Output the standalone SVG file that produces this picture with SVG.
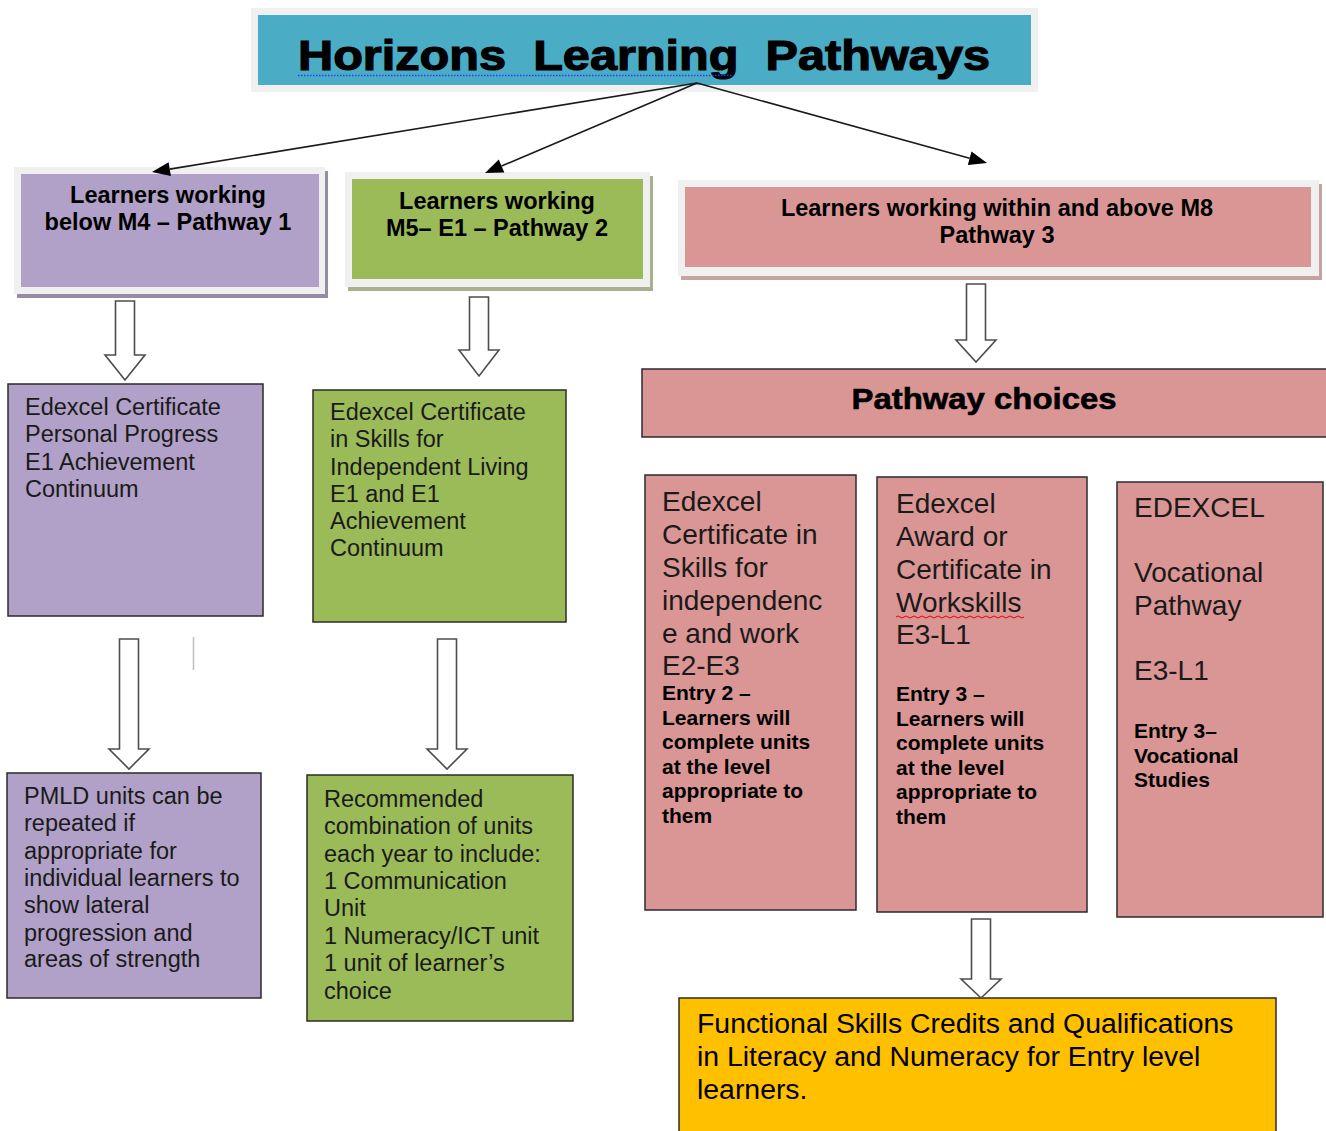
<svg xmlns="http://www.w3.org/2000/svg" width="1326" height="1131" viewBox="0 0 1326 1131">
<style>
  text { font-family: "Liberation Sans", Arial, sans-serif; fill: #000; }
  .hdr { font-weight: bold; font-size: 23.5px; text-anchor: middle; }
  .body { font-size: 23.5px; fill: #1a1a1a; }
  .big { font-size: 28px; fill: #1a1a1a; }
  .sm { font-size: 21px; font-weight: bold; }
  .box { stroke: #2b2b2b; stroke-width: 1.5; }
  .purple { fill: #B1A0C7; }
  .green { fill: #9BBB59; }
  .pink { fill: #DA9694; }
  .frame { fill: #F0F0F0; }
  .blk { fill: #ffffff; stroke: #4d4d4d; stroke-width: 1.6; stroke-linejoin: miter; }
  .conn { stroke: #1a1a1a; stroke-width: 1.6; fill: none; }
  .head { fill: #000; }
</style>
<rect x="0" y="0" width="1326" height="1131" fill="#ffffff"/>

<g id="title">
  <rect x="251" y="8" width="787" height="84" class="frame"/>
  <rect x="258" y="15" width="773" height="70" fill="#4BACC6"/>
  <text x="298" y="70" font-size="43" font-weight="bold" stroke="#000" stroke-width="1.2" textLength="692" lengthAdjust="spacingAndGlyphs" xml:space="preserve">Horizons  Learning  Pathways</text>
  <line x1="298" y1="75.5" x2="733" y2="75.5" stroke="#1f3cff" stroke-width="1.5" stroke-dasharray="1.5,1.5"/>
</g>

<g id="pathway1">
  <rect x="17" y="171" width="311" height="127" fill="#978CA6"/>
  <rect x="14" y="167" width="311" height="127" class="frame"/>
  <rect x="21" y="174" width="298" height="113" class="purple"/>
  <text class="hdr" x="168" y="203">Learners working</text>
  <text class="hdr" x="168" y="230">below M4 – Pathway 1</text>
</g>

<g id="pathway2">
  <rect x="348" y="176" width="305" height="115" fill="#A8B08C"/>
  <rect x="345" y="172" width="305" height="115" class="frame"/>
  <rect x="352" y="179" width="291" height="100" class="green"/>
  <text class="hdr" x="497" y="209">Learners working</text>
  <text class="hdr" x="497" y="236">M5– E1 – Pathway 2</text>
</g>

<g id="pathway3">
  <rect x="681" y="184" width="641" height="96" fill="#C4A3A2"/>
  <rect x="678" y="180" width="641" height="96" class="frame"/>
  <rect x="685" y="187" width="626" height="80" class="pink"/>
  <text class="hdr" x="997" y="216">Learners working within and above M8</text>
  <text class="hdr" x="997" y="243">Pathway 3</text>
</g>

<g id="p1-cert">
  <rect x="8" y="384" width="255" height="232" class="box purple"/>
  <text class="body" x="25" y="415">Edexcel Certificate</text>
  <text class="body" x="25" y="442">Personal Progress</text>
  <text class="body" x="25" y="470">E1 Achievement</text>
  <text class="body" x="25" y="497">Continuum</text>
</g>

<g id="p2-cert">
  <rect x="313" y="390" width="253" height="232" class="box green"/>
  <text class="body" x="330" y="420">Edexcel Certificate</text>
  <text class="body" x="330" y="447">in Skills for</text>
  <text class="body" x="330" y="475">Independent Living</text>
  <text class="body" x="330" y="502">E1 and E1</text>
  <text class="body" x="330" y="529">Achievement</text>
  <text class="body" x="330" y="556">Continuum</text>
</g>

<g id="p1-pmld">
  <rect x="7" y="773" width="254" height="225" class="box purple"/>
  <text class="body" x="24" y="804">PMLD units can be</text>
  <text class="body" x="24" y="831">repeated if</text>
  <text class="body" x="24" y="859">appropriate for</text>
  <text class="body" x="24" y="886">individual learners to</text>
  <text class="body" x="24" y="913">show lateral</text>
  <text class="body" x="24" y="941">progression and</text>
  <text class="body" x="24" y="967">areas of strength</text>
</g>

<g id="p2-units">
  <rect x="307" y="775" width="266" height="246" class="box green"/>
  <text class="body" x="324" y="807">Recommended</text>
  <text class="body" x="324" y="834">combination of units</text>
  <text class="body" x="324" y="862">each year to include:</text>
  <text class="body" x="324" y="889">1 Communication</text>
  <text class="body" x="324" y="916">Unit</text>
  <text class="body" x="324" y="944">1 Numeracy/ICT unit</text>
  <text class="body" x="324" y="971">1 unit of learner’s</text>
  <text class="body" x="324" y="999">choice</text>
</g>

<g id="pathway-choices">
  <rect x="642" y="369" width="690" height="68" class="box pink"/>
  <text x="984" y="409" font-size="29" font-weight="bold" text-anchor="middle" stroke="#000" stroke-width="0.6" textLength="265" lengthAdjust="spacingAndGlyphs">Pathway choices</text>
</g>

<g id="choice1">
  <rect x="645" y="475" width="211" height="435" class="box pink"/>
  <text class="big" x="662" y="511">Edexcel</text>
  <text class="big" x="662" y="544">Certificate in</text>
  <text class="big" x="662" y="577">Skills for</text>
  <text class="big" x="662" y="610">independenc</text>
  <text class="big" x="662" y="643">e and work</text>
  <text class="big" x="662" y="675">E2-E3</text>
  <text class="sm" x="662" y="700">Entry 2 –</text>
  <text class="sm" x="662" y="725">Learners will</text>
  <text class="sm" x="662" y="749">complete units</text>
  <text class="sm" x="662" y="774">at the level</text>
  <text class="sm" x="662" y="798">appropriate to</text>
  <text class="sm" x="662" y="823">them</text>
</g>

<g id="choice2">
  <rect x="877" y="477" width="210" height="435" class="box pink"/>
  <text class="big" x="896" y="513">Edexcel</text>
  <text class="big" x="896" y="546">Award or</text>
  <text class="big" x="896" y="579">Certificate in</text>
  <text class="big" x="896" y="612">Workskills</text>
  <path d="M896,617 q2,-2 4,0 t4,0 t4,0 t4,0 t4,0 t4,0 t4,0 t4,0 t4,0 t4,0 t4,0 t4,0 t4,0 t4,0 t4,0 t4,0 t4,0 t4,0 t4,0 t4,0 t4,0 t4,0 t4,0 t4,0 t4,0 t4,0 t4,0 t4,0 t4,0 t4,0 t4,0 t4,0" fill="none" stroke="#e00000" stroke-width="1"/>
  <text class="big" x="896" y="644">E3-L1</text>
  <text class="sm" x="896" y="701">Entry 3 –</text>
  <text class="sm" x="896" y="726">Learners will</text>
  <text class="sm" x="896" y="750">complete units</text>
  <text class="sm" x="896" y="775">at the level</text>
  <text class="sm" x="896" y="799">appropriate to</text>
  <text class="sm" x="896" y="824">them</text>
</g>

<g id="choice3">
  <rect x="1117" y="482" width="206" height="435" class="box pink"/>
  <text class="big" x="1134" y="517">EDEXCEL</text>
  <text class="big" x="1134" y="582">Vocational</text>
  <text class="big" x="1134" y="615">Pathway</text>
  <text class="big" x="1134" y="680">E3-L1</text>
  <text class="sm" x="1134" y="738">Entry 3–</text>
  <text class="sm" x="1134" y="763">Vocational</text>
  <text class="sm" x="1134" y="787">Studies</text>
</g>

<g id="functional-skills">
  <rect x="679" y="998" width="597" height="140" class="box" fill="#FFC000"/>
  <text x="697" y="1033" font-size="28.4" fill="#1a1a1a">Functional Skills Credits and Qualifications</text>
  <text x="697" y="1066" font-size="28.4" fill="#1a1a1a">in Literacy and Numeracy for Entry level</text>
  <text x="697" y="1099" font-size="28.4" fill="#1a1a1a">learners.</text>
</g>

<g id="connectors">
  <line x1="697" y1="83" x2="169.8" y2="169.1" class="conn"/>
  <polygon class="head" points="152,172 170.9,176 168.6,162.2"/>
  <line x1="697" y1="83" x2="501.6" y2="166" class="conn"/>
  <polygon class="head" points="485,173 504.3,172.4 498.8,159.5"/>
  <line x1="697" y1="83" x2="969.6" y2="158.2" class="conn"/>
  <polygon class="head" points="987,163 967.8,165 971.5,151.5"/>
  <path class="blk" d="M115.5,301 L134.5,301 L134.5,355 L145,355 L125,380 L105,355 L115.5,355 Z"/>
  <path class="blk" d="M469.5,297 L488.5,297 L488.5,350 L499,350 L479,376 L459,350 L469.5,350 Z"/>
  <path class="blk" d="M966.5,284 L985.5,284 L985.5,340 L996,340 L976,362 L956,340 L966.5,340 Z"/>
  <path class="blk" d="M119.5,639 L138.5,639 L138.5,749 L149,749 L129,769 L109,749 L119.5,749 Z"/>
  <path class="blk" d="M437.5,639 L456.5,639 L456.5,749 L467,749 L447,769 L427,749 L437.5,749 Z"/>
  <path class="blk" d="M971.5,919 L990.5,919 L990.5,979 L1001,979 L981,998 L961,979 L971.5,979 Z"/>
  <line x1="193.5" y1="637" x2="193.5" y2="670" stroke="#bfbfbf" stroke-width="1.5"/>
</g>
</svg>
